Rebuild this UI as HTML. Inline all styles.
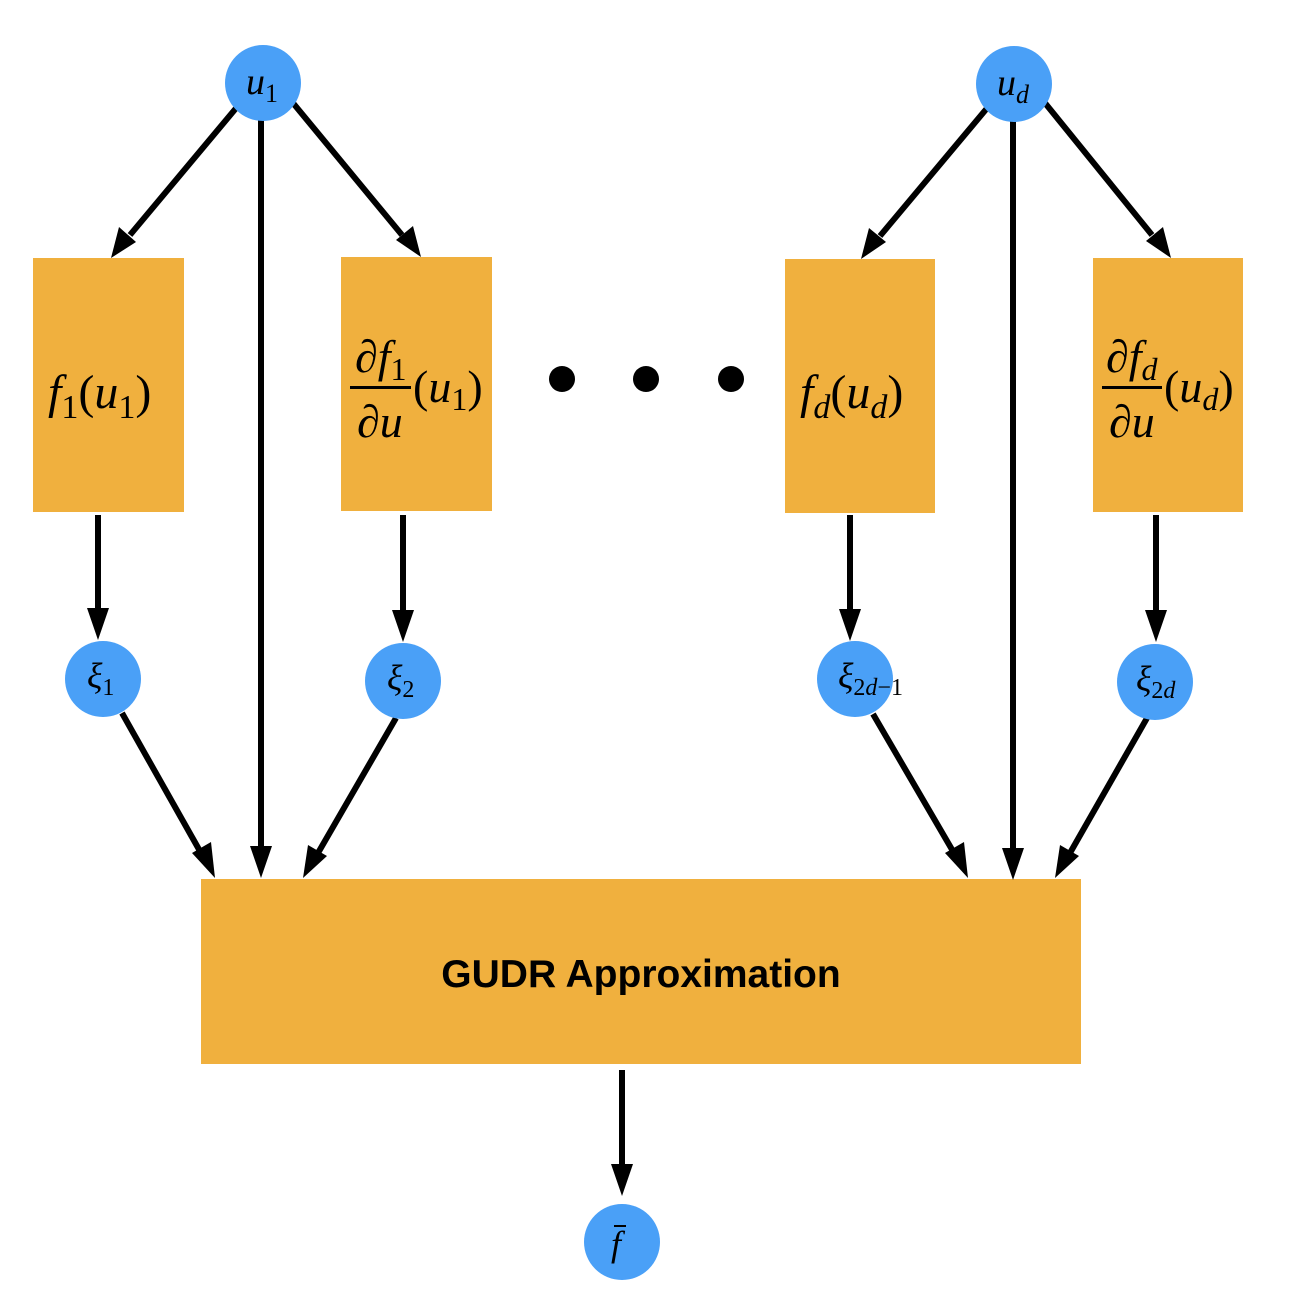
<!DOCTYPE html>
<html><head><meta charset="utf-8"><style>body{margin:0;background:#fff}svg{display:block}</style></head>
<body>
<svg width="1308" height="1302" viewBox="0 0 1308 1302" xmlns="http://www.w3.org/2000/svg">
<g fill="#f0b03e">
<rect x="33" y="258" width="151" height="254"/>
<rect x="341" y="257" width="151" height="254"/>
<rect x="785" y="259" width="150" height="254"/>
<rect x="1093" y="258" width="150" height="254"/>
<rect x="201" y="879" width="880" height="185"/>
</g>
<g stroke="#000" stroke-width="6" fill="none">
<line x1="237" y1="107" x2="130" y2="235"/>
<line x1="293" y1="103" x2="402" y2="235"/>
<line x1="261" y1="118" x2="261" y2="850"/>
<line x1="98" y1="515" x2="98" y2="612"/>
<line x1="403" y1="515" x2="403" y2="614"/>
<line x1="122" y1="713" x2="201" y2="853"/>
<line x1="396" y1="718" x2="318" y2="853"/>
<line x1="988" y1="107" x2="880" y2="236"/>
<line x1="1045" y1="103" x2="1152" y2="235"/>
<line x1="1013" y1="118" x2="1013" y2="852"/>
<line x1="850" y1="515" x2="850" y2="613"/>
<line x1="1156" y1="515" x2="1156" y2="614"/>
<line x1="873" y1="714" x2="954" y2="853"/>
<line x1="1147" y1="718" x2="1070" y2="853"/>
<line x1="622" y1="1070" x2="622" y2="1168"/>
</g>
<g fill="#000">
<path d="M111,258 L119,227 L136,242 Z"/>
<path d="M421,257 L396,240 L413,226 Z"/>
<path d="M261,878 L250,846 L272,846 Z"/>
<path d="M98,640 L87,608 L109,608 Z"/>
<path d="M403,642 L392,610 L414,610 Z"/>
<path d="M215,878 L192,853 L211,842 Z"/>
<path d="M303,878 L308,845 L327,856 Z"/>
<path d="M861,259 L869,228 L886,242 Z"/>
<path d="M1171,258 L1146,241 L1163,227 Z"/>
<path d="M1013,880 L1002,848 L1024,848 Z"/>
<path d="M850,641 L839,609 L861,609 Z"/>
<path d="M1156,642 L1145,610 L1167,610 Z"/>
<path d="M968,878 L945,853 L964,842 Z"/>
<path d="M1055,878 L1060,845 L1079,856 Z"/>
<path d="M622,1196 L611,1164 L633,1164 Z"/>
<circle cx="562" cy="379" r="13"/><circle cx="646" cy="379" r="13"/><circle cx="731" cy="379" r="13"/>
</g>
<g fill="#4aa0f7">
<circle cx="263" cy="83" r="38"/><circle cx="1014" cy="84" r="38"/>
<circle cx="103" cy="679" r="38"/><circle cx="403" cy="681" r="38"/>
<circle cx="855" cy="679" r="38"/><circle cx="1155" cy="682" r="38"/>
<circle cx="622" cy="1242" r="38"/>
</g>
<g font-family="Liberation Serif, serif" fill="#000">
<text x="246" y="94" font-size="38" font-style="italic">u<tspan font-style="normal" font-size="26" dy="8">1</tspan></text>
<text x="997" y="95" font-size="38" font-style="italic">u<tspan font-size="26" dy="8">d</tspan></text>
<text x="87" y="688" font-size="36" font-style="italic">ξ<tspan font-style="normal" font-size="24" dy="7">1</tspan></text>
<text x="387" y="690" font-size="36" font-style="italic">ξ<tspan font-style="normal" font-size="24" dy="7">2</tspan></text>
<text x="838" y="688" font-size="36" font-style="italic">ξ<tspan font-size="24" dy="7"><tspan font-style="normal">2</tspan>d<tspan font-style="normal">−1</tspan></tspan></text>
<text x="1136" y="691" font-size="36" font-style="italic">ξ<tspan font-size="24" dy="7"><tspan font-style="normal">2</tspan>d</tspan></text>
<text x="48" y="408" font-size="48" font-style="italic">f<tspan font-style="normal" font-size="34" dy="10">1</tspan><tspan font-style="normal" dy="-10">(</tspan>u<tspan font-style="normal" font-size="34" dy="10">1</tspan><tspan font-style="normal" dy="-10">)</tspan></text>
<text x="355" y="372" font-size="46" font-style="italic">∂f<tspan font-style="normal" font-size="32" dy="8">1</tspan></text>
<rect x="350" y="386" width="61" height="3"/>
<text x="357" y="437" font-size="46" font-style="italic">∂u</text>
<text x="413" y="402" font-size="46" font-style="italic"><tspan font-style="normal">(</tspan>u<tspan font-style="normal" font-size="32" dy="8">1</tspan><tspan font-style="normal" dy="-8">)</tspan></text>
<text x="800" y="408" font-size="48" font-style="italic">f<tspan font-size="34" dy="10">d</tspan><tspan font-style="normal" dy="-10">(</tspan>u<tspan font-size="34" dy="10">d</tspan><tspan font-style="normal" dy="-10">)</tspan></text>
<text x="1106" y="372" font-size="46" font-style="italic">∂f<tspan font-size="32" dy="8">d</tspan></text>
<rect x="1102" y="386" width="60" height="3"/>
<text x="1109" y="437" font-size="46" font-style="italic">∂u</text>
<text x="1164" y="402" font-size="46" font-style="italic"><tspan font-style="normal">(</tspan>u<tspan font-size="32" dy="8">d</tspan><tspan font-style="normal" dy="-8">)</tspan></text>
<text x="611" y="1256" font-size="36" font-style="italic">f</text>
<rect x="614" y="1225" width="12" height="2"/>
</g>
<text x="641" y="987" text-anchor="middle" font-family="Liberation Sans, sans-serif" font-weight="bold" font-size="39" fill="#000">GUDR Approximation</text>
</svg>
</body></html>
